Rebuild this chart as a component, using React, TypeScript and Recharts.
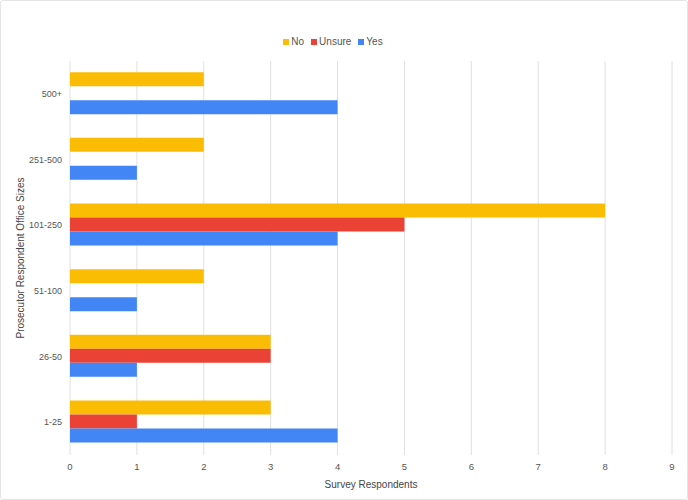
import React from 'react';
import { BarChart, Bar, XAxis, YAxis, CartesianGrid, Legend } from 'recharts';

const officeSizes = ['500+', '251-500', '101-250', '51-100', '26-50', '1-25'];
const noValues = [2, 2, 8, 2, 3, 3];
const unsureValues = [0, 0, 5, 0, 3, 1];
const yesValues = [4, 1, 4, 1, 1, 4];
const xTicks = [0, 1, 2, 3, 4, 5, 6, 7, 8, 9];

const data = officeSizes.map((size, i) => ({
  size,
  No: noValues[i],
  Unsure: unsureValues[i],
  Yes: yesValues[i],
}));

const font = 'Arial, "Liberation Sans", sans-serif';

// legend like sheets: small square, grey text
function renderLegend(props: any) {
  const { payload } = props;
  return (
    <div style={{ display: 'flex', justifyContent: 'center', alignItems: 'center', fontSize: 10, color: '#555', fontFamily: font }}>
      {payload.map((entry: any) => (
        <span key={entry.value} style={{ display: 'inline-flex', alignItems: 'center', marginRight: 7 }}>
          <span style={{ display: 'inline-block', width: 6, height: 6, background: entry.color, marginRight: 2 }} />
          {entry.value}
        </span>
      ))}
    </div>
  );
}

export default function App() {
  return (
    <div
      style={{
        position: 'absolute',
        left: 0,
        top: 0,
        width: 688,
        height: 500,
        boxSizing: 'border-box',
        border: '1px solid #e4e4e4',
        borderRadius: 3,
        background: '#fff',
        fontFamily: font,
      }}
    >
      <BarChart
        width={686}
        height={498}
        data={data}
        layout="vertical"
        margin={{ top: 60, right: 15, bottom: 0, left: 0 }}
        barCategoryGap="17%"
        barGap={0}
      >
        <CartesianGrid horizontal={false} stroke="#e0e0e0" />
        <XAxis
          type="number"
          domain={[0, 9]}
          ticks={xTicks}
          axisLine={false}
          tickLine={false}
          height={44}
          tick={{ fontSize: 9.5, fill: '#555', fontFamily: font }}
          label={{ value: 'Survey Respondents', position: 'insideBottom', offset: 11, fontSize: 10, fill: '#444', fontFamily: font }}
        />
        <YAxis
          type="category"
          dataKey="size"
          width={69}
          axisLine={false}
          tickLine={false}
          tick={{ fontSize: 9, fill: '#555', fontFamily: font }}
          label={{ value: 'Prosecutor Respondent Office Sizes', angle: -90, position: 'insideLeft', offset: 19, fontSize: 10, fill: '#444', fontFamily: font, style: { textAnchor: 'middle' } }}
        />
        <Legend
          layout="horizontal"
          verticalAlign="middle"
          align="center"
          content={renderLegend}
          wrapperStyle={{ top: 35 }}
        />
        <Bar dataKey="No" fill="#fbbc04" isAnimationActive={false} />
        <Bar dataKey="Unsure" fill="#ea4335" isAnimationActive={false} />
        <Bar dataKey="Yes" fill="#4285f4" isAnimationActive={false} />
      </BarChart>
    </div>
  );
}
